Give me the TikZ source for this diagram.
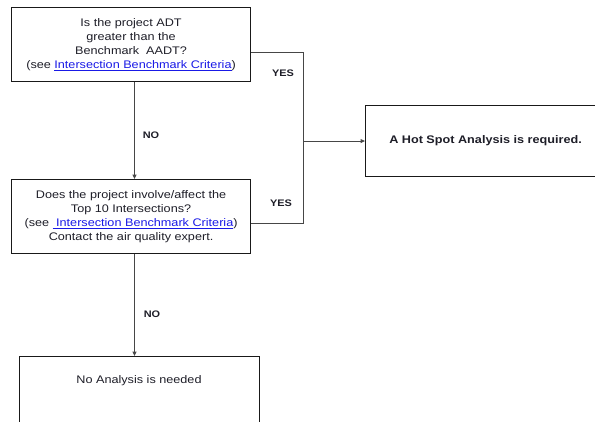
\documentclass[tikz,border=0pt]{standalone}
\usepackage{fontspec}
\setmainfont{Liberation Sans}[FakeStretch=1.15]
\usetikzlibrary{arrows.meta,calc}
\definecolor{txt}{RGB}{30,30,40}
\definecolor{linkblue}{RGB}{25,25,230}
\definecolor{conn}{RGB}{70,70,70}
\begin{document}
\begin{tikzpicture}[x=1pt,y=-1pt,
  box/.style={draw=black!90,line width=1.1pt,rectangle,inner sep=0pt,anchor=north west,align=center,text=txt,font=\fontsize{11}{14}\selectfont},
  conline/.style={draw=conn,line width=1pt},
  arr/.style={conline,-{Triangle[length=4.5pt,width=4pt]}},
  lab/.style={font=\bfseries\fontsize{9.5}{11}\selectfont,text=txt,inner sep=0pt},
  link/.style={}]
\useasboundingbox (0,0) rectangle (595,421);
\clip (0,0) rectangle (595,421);
\newcommand{\lnk}[1]{\textcolor{linkblue}{\underline{#1}}}
\node[box,minimum width=239pt,minimum height=74pt] (box1) at (11,7)
  {Is the project ADT\\greater than the\\Benchmark\ \ AADT?\\(see \lnk{Intersection Benchmark Criteria})};
\node[box,minimum width=239pt,minimum height=74pt] (box2) at (11,179)
  {Does the project involve/affect the\\Top 10 Intersections?\\(see \lnk{\ Intersection Benchmark Criteria})\\Contact the air quality expert.};
\node[box,minimum width=240pt,minimum height=71pt,font=\bfseries\fontsize{11}{14}\selectfont] (box3) at (365,105)
  {A Hot Spot Analysis is required.};
\node[box,minimum width=240pt,minimum height=80pt] (box4) at (19,356) {};
\node[text=txt,font=\fontsize{11}{14}\selectfont,inner sep=0pt] (t4) at (139,381) {No Analysis is needed};
\coordinate (xl) at (134.5,0);
\coordinate (yx) at (303,0);
\coordinate (y1) at (0,52);
\coordinate (y2) at (0,223);
\draw[arr] (box1.south -| xl) -- (box2.north -| xl);
\draw[arr] (box2.south -| xl) -- (box4.north -| xl);
\draw[conline] (box1.east |- y1) -- (yx |- y1) -- (yx |- y2) -- (box2.east |- y2);
\draw[arr] (yx |- box3.west) -- (box3.west);
\node[lab] (yes1) at (283,73) {YES};
\node[lab] (yes2) at (281,203) {YES};
\node[lab] (no1) at (151,135) {NO};
\node[lab] (no2) at (152,314) {NO};
\end{tikzpicture}
\end{document}
